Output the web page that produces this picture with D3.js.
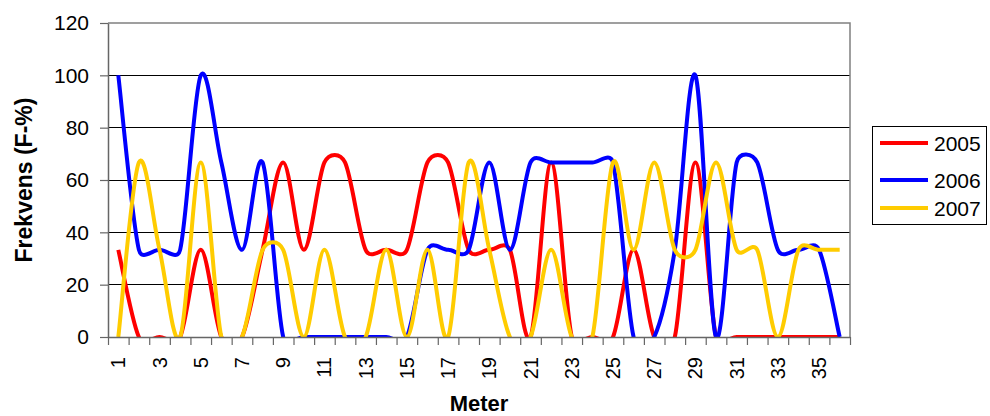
<!DOCTYPE html>
<html lang="no">
<head>
<meta charset="UTF-8">
<title>Frekvens per meter</title>
<style>
  body { margin: 0; padding: 0; background: #fff; }
  svg { display: block; font-family: "Liberation Sans", Arial, sans-serif; }
</style>
<script src="https://d3js.org/d3.v7.min.js"></script>
</head>
<body>
<script>
// data (frekvens in %, per meter)
const meters = [1,2,3,4,5,6,7,8,9,10,11,12,13,14,15,16,17,18,19,20,21,22,23,24,25,26,27,28,29,30,31,32,33,34,35,36];
const f2005 = [33.3,0,0,0,33.3,0,0,33.3,66.7,33.3,66.7,66.7,33.3,33.3,33.3,66.7,66.7,33.3,33.3,33.3,0,66.7,0,0,0,33.3,0,0,66.7,0,0,0,0,0,0,0];
const f2006 = [100,33.3,33.3,33.3,100,66.7,33.3,66.7,0,0,0,0,0,0,0,33.3,33.3,33.3,66.7,33.3,66.7,66.7,66.7,66.7,66.7,0,0,33.3,100,0,66.7,66.7,33.3,33.3,33.3,0];
const f2007 = [0,66.7,33.3,0,66.7,0,0,33.3,33.3,0,33.3,0,0,33.3,0,33.3,0,66.7,33.3,0,0,33.3,0,0,66.7,33.3,66.7,33.3,33.3,66.7,33.3,33.3,0,33.3,33.3,33.3];
const seriesNames = ["2005", "2006", "2007"];
const seriesColors = ["#ff0000", "#0000ff", "#ffcc00"];
const yTicks = [0, 20, 40, 60, 80, 100, 120];

const width = 990, height = 416;
const plotL = 108, plotR = 850, plotT = 23, plotB = 337;

const svg = d3.select("body").append("svg")
  .attr("width", width)
  .attr("height", height);

svg.append("rect").attr("width", width).attr("height", height).attr("fill", "#fff");

const x = d3.scaleLinear().domain([0.5, meters.length + 0.5]).range([plotL, plotR]);
const y = d3.scaleLinear().domain([0, 120]).range([plotB, plotT]);

// gridlines
svg.append("g")
  .selectAll("line")
  .data(yTicks.filter(d => d > 0 && d < 120))
  .join("line")
  .attr("x1", plotL).attr("x2", plotR)
  .attr("y1", d => y(d)).attr("y2", d => y(d))
  .attr("stroke", "#000").attr("stroke-width", 1)
  .attr("shape-rendering", "crispEdges");

// plot border (top + right)
svg.append("path")
  .attr("d", `M${plotL},${y(120)}H${plotR}V${plotB}`)
  .attr("fill", "none").attr("stroke", "#808080").attr("stroke-width", 1.5);

// spreadsheet-style smoothing: catmull-rom handles, shortened on short segments
function smoothCurve(context) {
  const k = 0.62;
  let pts = [];
  const dist = (a, b) => Math.hypot(b[0] - a[0], b[1] - a[1]);
  const handle = (dPrev, d) => (dPrev + d > 0 ? Math.min(1 / 6, k * d / (dPrev + d)) : 0);
  return {
    areaStart() {}, areaEnd() {},
    lineStart() { pts = []; },
    point(px, py) { pts.push([+px, +py]); },
    lineEnd() {
      const n = pts.length;
      if (!n) return;
      context.moveTo(pts[0][0], pts[0][1]);
      for (let i = 0; i < n - 1; i++) {
        const p0 = pts[i - 1] || pts[i], p1 = pts[i], p2 = pts[i + 1], p3 = pts[i + 2] || pts[i + 1];
        const d01 = dist(p0, p1), d12 = dist(p1, p2), d23 = dist(p2, p3);
        const f1 = handle(d01, d12), f2 = handle(d23, d12);
        context.bezierCurveTo(
          p1[0] + (p2[0] - p0[0]) * f1, p1[1] + (p2[1] - p0[1]) * f1,
          p2[0] - (p3[0] - p1[0]) * f2, p2[1] - (p3[1] - p1[1]) * f2,
          p2[0], p2[1]);
      }
    }
  };
}

// series, clipped to the plot area
svg.append("clipPath").attr("id", "plot")
  .append("rect").attr("x", plotL).attr("y", plotT).attr("width", plotR - plotL).attr("height", plotB - plotT);

const line = d3.line()
  .x((d, i) => x(meters[i]))
  .y(d => y(d))
  .curve(smoothCurve);

const allSeries = [f2005, f2006, f2007];
svg.append("g").attr("clip-path", "url(#plot)")
  .selectAll("path")
  .data(allSeries)
  .join("path")
  .attr("d", d => line(d))
  .attr("fill", "none")
  .attr("stroke", (d, i) => seriesColors[i])
  .attr("stroke-width", 4)
  .attr("stroke-linejoin", "round");

// y axis
const yAxis = svg.append("g")
  .attr("transform", `translate(${plotL},0)`)
  .call(d3.axisLeft(y).tickValues(yTicks).tickSize(8).tickPadding(11).tickSizeOuter(0));
yAxis.select(".domain").attr("stroke", "#666").attr("stroke-width", 1.5);
yAxis.selectAll(".tick line").attr("stroke", "#666").attr("stroke-width", 1.2);
yAxis.selectAll(".tick text").attr("font-size", 21).attr("fill", "#000")
  .attr("font-family", "Liberation Sans, Arial, sans-serif");

// x axis: ticks between categories, labels on odd meters
const bounds = d3.range(0, meters.length + 1).map(i => i + 0.5);
const xAxis = svg.append("g")
  .attr("transform", `translate(0,${plotB})`)
  .call(d3.axisBottom(x).tickValues(bounds).tickSize(8).tickFormat("").tickSizeOuter(0));
xAxis.select(".domain").attr("stroke", "#666").attr("stroke-width", 1.5);
xAxis.selectAll(".tick line").attr("stroke", "#666").attr("stroke-width", 1.2);

svg.append("g")
  .selectAll("text")
  .data(meters.filter(d => d % 2 === 1))
  .join("text")
  .attr("transform", d => `translate(${x(d)},${plotB + 20}) rotate(-90)`)
  .attr("dy", "0.35em")
  .attr("text-anchor", "end")
  .attr("font-size", 20)
  .text(d => d);

// axis titles
svg.append("text")
  .attr("x", (plotL + plotR) / 2).attr("y", 411)
  .attr("text-anchor", "middle")
  .attr("font-size", 22).attr("font-weight", "bold")
  .text("Meter");

svg.append("text")
  .attr("transform", `translate(32,180) rotate(-90)`)
  .attr("text-anchor", "middle")
  .attr("font-size", 23).attr("font-weight", "bold")
  .text("Frekvens (F-%)");

// legend
const legend = svg.append("g");
legend.append("rect")
  .attr("x", 872.5).attr("y", 126.5).attr("width", 114).attr("height", 98)
  .attr("fill", "#fff").attr("stroke", "#000").attr("stroke-width", 1);
const legendY = [143, 180, 208];
const items = legend.selectAll("g.item")
  .data(seriesNames)
  .join("g").attr("class", "item")
  .attr("transform", (d, i) => `translate(0,${legendY[i]})`);
items.append("line")
  .attr("x1", 880).attr("x2", 928)
  .attr("stroke", (d, i) => seriesColors[i]).attr("stroke-width", 4);
items.append("text")
  .attr("x", 934).attr("y", 0).attr("dy", "0.36em")
  .attr("font-size", 21)
  .text(d => d);
</script>
</body>
</html>
